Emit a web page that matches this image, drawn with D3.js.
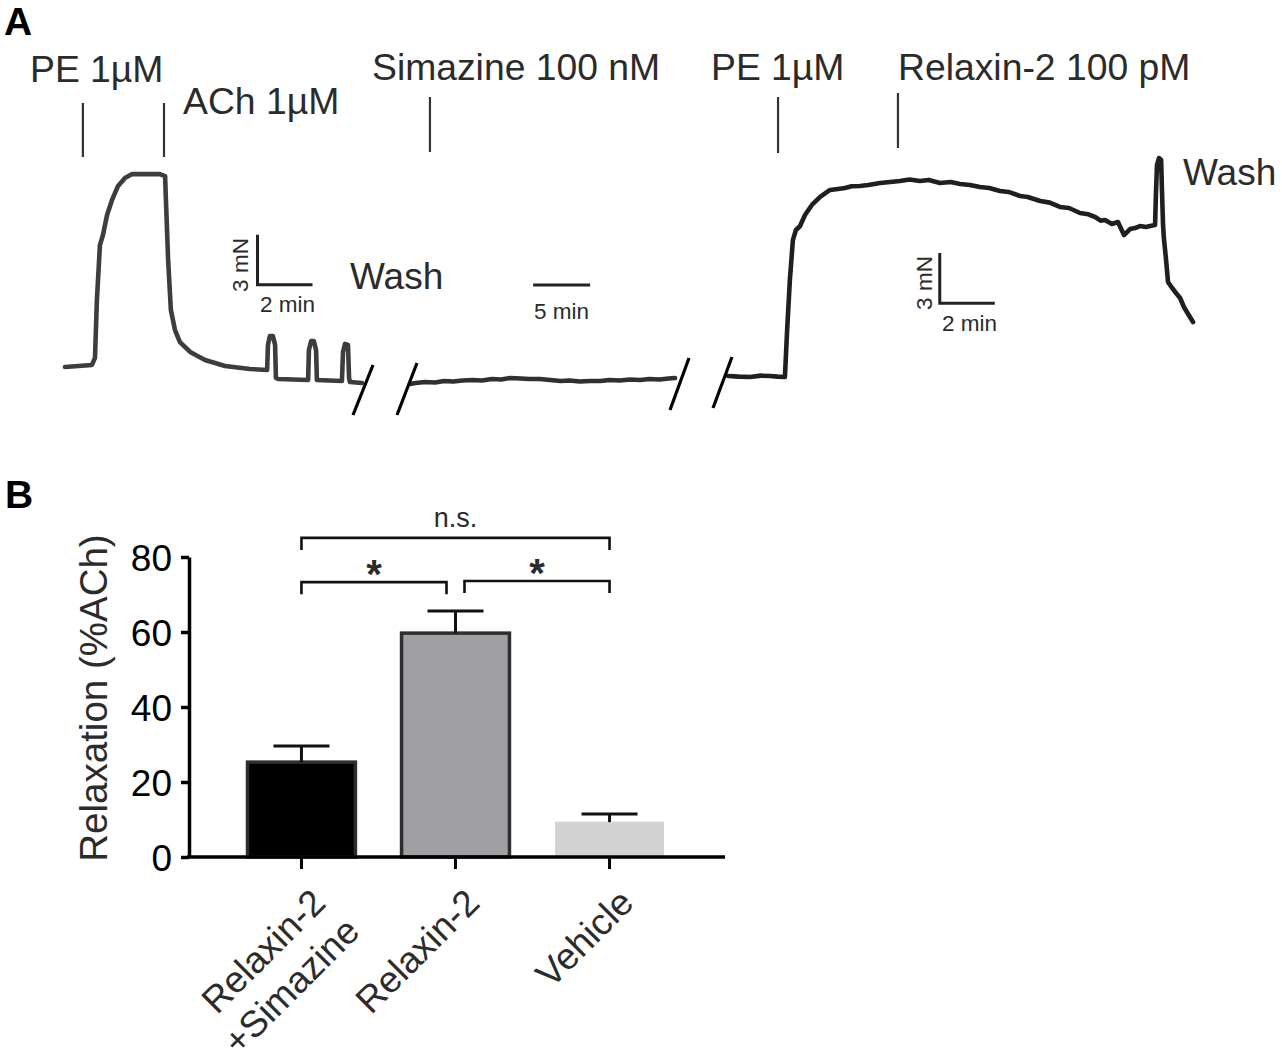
<!DOCTYPE html>
<html><head><meta charset="utf-8">
<script src="https://cdn.jsdelivr.net/npm/d3@7"></script>
<style>
html,body{margin:0;padding:0;background:#fff;}
svg{display:block;font-family:"Liberation Sans",Arial,Helvetica,sans-serif;}
</style></head>
<body>
<svg id="c" width="1282" height="1064"></svg>
<script>
// ---------- Panel A : isometric tension trace (time in min, force in mN) ----------
const seg1Time  = [0,0.98,1.09,1.16,1.27,1.38,1.53,1.71,1.93,2.18,2.44,2.91,3.45,3.64,3.67,3.75,3.85,4.0,4.18,4.55,5.09,5.82,6.73,7.35,7.38,7.45,7.56,7.64,7.67,7.75,8.84,8.87,8.95,9.05,9.13,9.16,10.07,10.11,10.18,10.29,10.33,10.36,10.8];
const seg1Force = [1.08,1.20,1.62,5.09,8.38,8.98,10.18,11.08,11.92,12.40,12.63,12.63,12.63,12.51,11.08,7.49,4.49,3.29,2.57,1.98,1.50,1.14,0.96,0.90,2.40,2.93,2.93,2.40,0.42,0.36,0.30,2.10,2.63,2.63,2.10,0.30,0.24,1.98,2.46,2.40,0.42,0.18,0.12];

const seg2Time  = [0,0.5,1.3,2.2,3.0,3.8,4.6,5.5,6.3,7.2,8.0,8.8,9.7,10.5,11.4,12.3,13.2,14.0,14.9,15.8,16.7,17.5,18.4,19.3,20.2,21.0,21.9,22.7,23.25];
const seg2Force = [0.06,0.12,0.18,0.15,0.24,0.21,0.27,0.30,0.27,0.36,0.33,0.42,0.39,0.36,0.36,0.30,0.24,0.27,0.21,0.24,0.24,0.30,0.27,0.33,0.30,0.36,0.33,0.39,0.42];

const seg3Time  = [0,0.4,0.8,1.2,1.53,1.8,2.07,2.15,2.25,2.36,2.47,2.62,2.8,3.05,3.35,3.71,4.0,4.25,4.5,4.8,5.1,5.53,5.9,6.25,6.6,6.98,7.3,7.71,8.1,8.44,8.8,9.16,9.5,9.89,10.2,10.62,10.9,11.35,11.7,12.07,12.4,12.8,13.1,13.35,13.55,13.71,13.96,14.18,14.4,14.62,14.8,14.98,15.2,15.35,15.53,15.56,15.6,15.67,15.75,15.78,15.82,15.85,15.93,16.0,16.15,16.29,16.44,16.58,16.73,16.91];
const seg3Force = [0.54,0.50,0.48,0.56,0.54,0.50,0.48,3.29,6.29,8.68,9.28,9.52,10.18,10.78,11.26,11.68,11.74,11.80,11.90,11.92,11.98,12.10,12.16,12.22,12.30,12.22,12.28,12.10,12.16,12.04,11.98,11.86,11.80,11.62,11.56,11.32,11.26,11.02,10.92,10.66,10.60,10.30,10.22,10.06,9.84,9.88,9.64,9.76,8.98,9.34,9.40,9.52,9.46,9.52,9.58,11.38,13.17,13.59,13.47,11.68,9.58,8.80,7.49,6.17,5.81,5.51,5.21,4.67,4.25,3.77];

// event markers
const eventLabels = ["PE 1µM","ACh 1µM","Simazine 100 nM","PE 1µM","Relaxin-2 100 pM"];
const eventSegment = [1,1,2,3,3];
const eventTime = [0.65,3.6,1.75,1.82,6.18];

// ---------- Panel B : bar chart ----------
const categories = [["Relaxin-2","+Simazine"],["Relaxin-2"],["Vehicle"]];
const means = [25.3,59.7,9.3];
const sems  = [4.3,5.9,2.2];
const yTicks = [0,20,40,60,80];
const comparisons = [[0,2,"n.s."],[0,1,"*"],[1,2,"*"]];

const svg = d3.select("#c");
const ink = "#2b2b2b";

// ----- Panel A scales -----
const yF = d3.scaleLinear().domain([0,13]).range([385,385-13*16.7]);
const x1 = d3.scaleLinear().domain([0,10.8]).range([65,65+10.8*27.5]);
const x2 = d3.scaleLinear().domain([0,23.25]).range([410,410+23.25*11.4]);
const x3 = d3.scaleLinear().domain([0,16.91]).range([728,728+16.91*27.5]);
const segs = [
  {t:seg1Time,f:seg1Force,x:x1,col:"#3d3d3d"},
  {t:seg2Time,f:seg2Force,x:x2,col:"#303030"},
  {t:seg3Time,f:seg3Force,x:x3,col:"#1f1f1f"}
];
segs.forEach(s=>{
  const line = d3.line().x(i=>s.x(s.t[i])).y(i=>yF(s.f[i])).curve(d3.curveLinear);
  svg.append("path").attr("d",line(d3.range(s.t.length)))
    .attr("fill","none").attr("stroke",s.col).attr("stroke-width",4.6)
    .attr("stroke-linejoin","round").attr("stroke-linecap","round");
});

// break marks
[[353,415,373,365],[397,415,417,363],[670,410,689,358],[713,408,732,357]].forEach(b=>{
  svg.append("line").attr("x1",b[0]).attr("y1",b[1]).attr("x2",b[2]).attr("y2",b[3])
    .attr("stroke","#000").attr("stroke-width",3.2);
});

// event markers
const segScale = {1:x1,2:x2,3:x3};
const markTop = [103,103,97,97,93], markBot=[157,157,152,153,148];
eventLabels.forEach((lab,i)=>{
  const xx = segScale[eventSegment[i]](eventTime[i]);
  svg.append("line").attr("x1",xx).attr("x2",xx).attr("y1",markTop[i]).attr("y2",markBot[i])
    .attr("stroke","#333").attr("stroke-width",2.2);
});
const evText = [
  {x:30,y:82},{x:183,y:114},{x:372,y:80},{x:711,y:80},{x:898,y:80}
];
eventLabels.forEach((lab,i)=>{
  svg.append("text").attr("x",evText[i].x).attr("y",evText[i].y)
    .attr("font-size",37.3).attr("fill",ink).text(lab);
});
svg.append("text").attr("x",350).attr("y",289).attr("font-size",37).attr("fill",ink).text("Wash");
svg.append("text").attr("x",1183).attr("y",185).attr("font-size",37).attr("fill",ink).text("Wash");

// scale bars
function scaleBar(xs, t0, f0, labelV, labelH, hx, hy, vx, vy){
  const X0 = xs(t0), X1 = xs(t0+2), Y0 = yF(f0), Y1 = yF(f0+3);
  svg.append("path").attr("d",`M${X0},${Y1}L${X0},${Y0}L${X1},${Y0}`)
    .attr("fill","none").attr("stroke","#222").attr("stroke-width",3);
  svg.append("text").attr("transform",`translate(${vx},${vy}) rotate(-90)`)
    .attr("text-anchor","middle").attr("font-size",22.5).attr("fill",ink).text(labelV);
  svg.append("text").attr("x",hx).attr("y",hy).attr("font-size",22.5).attr("fill",ink).text(labelH);
}
scaleBar(x1, 7.0, 6.0, "3 mN", "2 min", 260, 312, 248, 265);
scaleBar(x3, 7.7, 4.9, "3 mN", "2 min", 942, 331, 932, 283);
// 5 min bar (middle segment)
svg.append("line").attr("x1",x2(10.8)).attr("x2",x2(15.8)).attr("y1",285).attr("y2",285)
  .attr("stroke","#222").attr("stroke-width",3);
svg.append("text").attr("x",(x2(10.8)+x2(15.8))/2).attr("y",319).attr("text-anchor","middle")
  .attr("font-size",22.5).attr("fill",ink).text("5 min");

// panel labels
svg.append("text").attr("x",4).attr("y",35).attr("font-size",39).attr("font-weight","bold").attr("fill","#000").text("A");
svg.append("text").attr("x",5).attr("y",508).attr("font-size",39).attr("font-weight","bold").attr("fill","#000").text("B");

// ----- Panel B -----
const y = d3.scaleLinear().domain([0,80]).range([857,557]);
const x = d3.scaleBand().domain(d3.range(categories.length)).range([246,665]).paddingInner(0.28).paddingOuter(0);
const axX0 = 189, axX1 = 725;

const fills = ["#000000","#a0a0a4","#d3d3d3"];
const strokes = ["#2e2e2e","#2e2e2e","#d3d3d3"];
means.forEach((m,i)=>{
  svg.append("rect").attr("x",x(i)+1.5).attr("y",y(m)).attr("width",x.bandwidth()-3).attr("height",y(0)-y(m))
    .attr("fill",fills[i]).attr("stroke",strokes[i]).attr("stroke-width",i<2?3.5:1);
});
// error bars
means.forEach((m,i)=>{
  const cx = x(i)+x.bandwidth()/2;
  svg.append("line").attr("x1",cx).attr("x2",cx).attr("y1",y(m)).attr("y2",y(m+sems[i]))
    .attr("stroke","#111").attr("stroke-width",3);
  svg.append("line").attr("x1",cx-28).attr("x2",cx+28).attr("y1",y(m+sems[i])).attr("y2",y(m+sems[i]))
    .attr("stroke","#111").attr("stroke-width",3);
});

// y axis
const yAxis = d3.axisLeft(y).tickValues(yTicks).tickSize(8).tickPadding(9).tickSizeOuter(0);
const gy = svg.append("g").attr("transform",`translate(${axX0},0)`).call(yAxis);
gy.select(".domain").attr("stroke","#000").attr("stroke-width",3.5);
gy.selectAll(".tick line").attr("stroke","#000").attr("stroke-width",3.5);
gy.selectAll(".tick text").attr("font-size",37).attr("fill","#000").attr("font-family","Liberation Sans, Arial, sans-serif").attr("dy","0.36em");

// x axis
const xAxis = d3.axisBottom(x).tickSize(12).tickSizeOuter(0).tickFormat("");
const gx = svg.append("g").attr("transform",`translate(0,${y(0)})`).call(xAxis);
gx.select(".domain").remove();
gx.selectAll(".tick line").attr("stroke","#000").attr("stroke-width",3);
svg.append("line").attr("x1",axX0-1.75).attr("x2",axX1).attr("y1",y(0)).attr("y2",y(0))
  .attr("stroke","#000").attr("stroke-width",3.5);

// category labels
categories.forEach((lines,i)=>{
  const cx = x(i)+x.bandwidth()/2;
  const t = svg.append("text").attr("transform",`translate(${cx+26},${y(0)+48}) rotate(-45)`)
    .attr("text-anchor","end").attr("font-size",37).attr("fill",ink);
  lines.forEach((ln,k)=>{
    t.append("tspan").attr("x",k*4).attr("dy",k===0?0:"1.2em").text(ln);
  });
});

// y label
svg.append("text").attr("transform",`translate(107,698) rotate(-90)`).attr("text-anchor","middle")
  .attr("font-size",38.5).attr("fill",ink).text("Relaxation (%ACh)");

// significance brackets
const bracketLevel = [85.1,73.3,73.6];
comparisons.forEach((c,k)=>{
  let xa = x(c[0])+x.bandwidth()/2, xb = x(c[1])+x.bandwidth()/2;
  if(k===1) xb -= 9;
  if(k===2) xa += 9;
  const yy = y(bracketLevel[k]);
  svg.append("path").attr("d",`M${xa},${yy+12}L${xa},${yy}L${xb},${yy}L${xb},${yy+12}`)
    .attr("fill","none").attr("stroke","#111").attr("stroke-width",2.6);
  if(c[2]==="n.s."){
    svg.append("text").attr("x",(xa+xb)/2).attr("y",yy-11).attr("text-anchor","middle")
      .attr("font-size",27).attr("fill",ink).text(c[2]);
  } else {
    svg.append("text").attr("x",(xa+xb)/2).attr("y",yy+6).attr("text-anchor","middle")
      .attr("font-size",40).attr("font-weight","bold").attr("fill",ink).text(c[2]);
  }
});
</script>
</body></html>
